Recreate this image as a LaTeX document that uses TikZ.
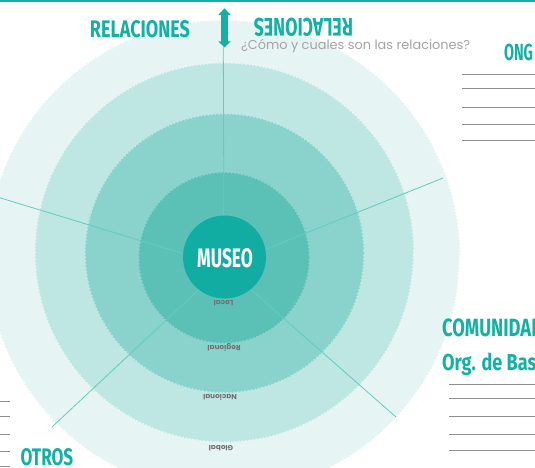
\documentclass[tikz,border=0pt]{standalone}
\usepackage{fontspec}
\usepackage{graphicx}
\setmainfont{Fira Sans}
\newfontfamily\poppins{Poppins}
\usetikzlibrary{decorations.pathmorphing}
\definecolor{teal1}{HTML}{13B0A3}
\definecolor{museoc}{HTML}{12ADA2}
\definecolor{ringA}{HTML}{5BC1B7}
\definecolor{ringB}{HTML}{89D3CC}
\definecolor{ringC}{HTML}{BEE6E2}
\definecolor{ringD}{HTML}{E6F5F4}
\definecolor{spokec}{HTML}{63CBC1}
\definecolor{qgray}{HTML}{A4A4A4}
\definecolor{lgray}{HTML}{707070}
\definecolor{rulec}{HTML}{8E8E8E}
\newcommand{\hd}[2]{\scalebox{0.65}[1]{\resizebox{!}{#1}{\bfseries #2}}}
\begin{document}
\begin{tikzpicture}[x=1pt,y=-1pt,
  ring/.style={decorate,decoration={snake,segment length=3.5pt,amplitude=0.8pt}},
  spoke/.style={draw=spokec,line width=0.8pt},
  head/.style={inner sep=0pt,text=teal1},
  ringlabel/.style={inner sep=0pt,text=lgray,rotate=180,font=\poppins\bfseries\fontsize{7.3}{8}\selectfont},
  rulel/.style={draw=rulec,line width=1pt}]
\useasboundingbox (0,0) rectangle (535,468);
\fill[white] (0,0) rectangle (535,468);
% top bar
\fill[teal1] (0,0) rectangle (535,2.5);
% rings
\fill[ringD,ring] (223,256) circle[radius=236];
\fill[ringC,ring] (224,252) circle[radius=189];
\fill[ringB,ring] (224.5,252.5) circle[radius=139];
\fill[ringA,ring] (224,257) circle[radius=85];
% spokes
\coordinate (c) at (224,266);
\coordinate (pUp) at (223.3,47);
\coordinate (pRU) at (443,178);
\coordinate (pRD) at (396,417);
\coordinate (pLD) at (52,427);
\coordinate (pLU) at (-6,196);
\draw[spoke] (c) -- (pUp);
\draw[spoke] (c) -- (pRU);
\draw[spoke] (c) -- (pRD);
\draw[spoke] (c) -- (pLD);
\draw[spoke] (c) -- (pLU);
% museo
\node[circle,fill=museoc,minimum size=83pt,inner sep=0pt] (museo) at (224.5,257) {};
\node[inner sep=0pt,text=white] (museot) at (225,258.5) {\hd{19pt}{MUSEO}};
% ring labels
\node[ringlabel] (local) at (223.5,303) {Local};
\node[ringlabel] (regional) at (224,347) {Regional};
\node[ringlabel] (nacional) at (220,397) {Nacional};
\node[ringlabel] (global) at (221,448) {Global};
% double arrow
\fill[teal1] (224.5,8.3) -- (230.7,15) -- (227.8,15) -- (227.8,41.5) -- (230.7,41.5) -- (224.5,47.3)
  -- (218.3,41.5) -- (221.2,41.5) -- (221.2,15) -- (218.3,15) -- cycle;
% headings
\node[head] (rel1) at (140,29.5) {\resizebox{100pt}{17pt}{\bfseries RELACIONES}};
\node[head,rotate=180] (rel2) at (303.5,27.5) {\resizebox{99pt}{18pt}{\bfseries RELACIONES}};
\node[inner sep=0pt,anchor=base west,text=qgray] (q) at (241,49.3)
  {\resizebox{229pt}{!}{\poppins\fontsize{12}{14}\selectfont ¿Cómo y cuales son las relaciones?}};
\node[head] (ong) at (518.5,52) {\resizebox{29pt}{16.5pt}{\bfseries ONG}};
\node[head,anchor=north west] (com) at (442,319) {\resizebox{101pt}{17.7pt}{\bfseries COMUNIDAD}};
\node[head,anchor=base west] (org) at (442,370) {\resizebox{104pt}{17.5pt}{\bfseries Org. de Base}};
\node[head] (otros) at (47,457.3) {\resizebox{52.6pt}{17pt}{\bfseries OTROS}};
% rules ONG
\coordinate (o1a) at (462,75); \coordinate (o1b) at (535,75);
\coordinate (o2a) at (462,89); \coordinate (o2b) at (535,89);
\coordinate (o3a) at (462,107.3); \coordinate (o3b) at (535,107.3);
\coordinate (o4a) at (462,125); \coordinate (o4b) at (535,125);
\coordinate (o5a) at (462,140); \coordinate (o5b) at (535,140);
\foreach \i in {1,...,5} {\draw[rulel] (o\i a) -- (o\i b);}
% rules COMUNIDAD
\coordinate (k1a) at (449,384.3); \coordinate (k1b) at (535,384.3);
\coordinate (k2a) at (449,398.3); \coordinate (k2b) at (535,398.3);
\coordinate (k3a) at (449,416.7); \coordinate (k3b) at (535,416.7);
\coordinate (k4a) at (449,434.3); \coordinate (k4b) at (535,434.3);
\coordinate (k5a) at (449,450); \coordinate (k5b) at (535,450);
\foreach \i in {1,...,5} {\draw[rulel] (k\i a) -- (k\i b);}
% rules left
\coordinate (l1a) at (0,401.7); \coordinate (l1b) at (10,401.7);
\coordinate (l2a) at (0,416.7); \coordinate (l2b) at (10,416.7);
\coordinate (l3a) at (0,434); \coordinate (l3b) at (10,434);
\coordinate (l4a) at (0,451.7); \coordinate (l4b) at (10,451.7);
\coordinate (l5a) at (0,466.7); \coordinate (l5b) at (10,466.7);
\foreach \i in {1,...,5} {\draw[rulel] (l\i a) -- (l\i b);}
\end{tikzpicture}
\end{document}
